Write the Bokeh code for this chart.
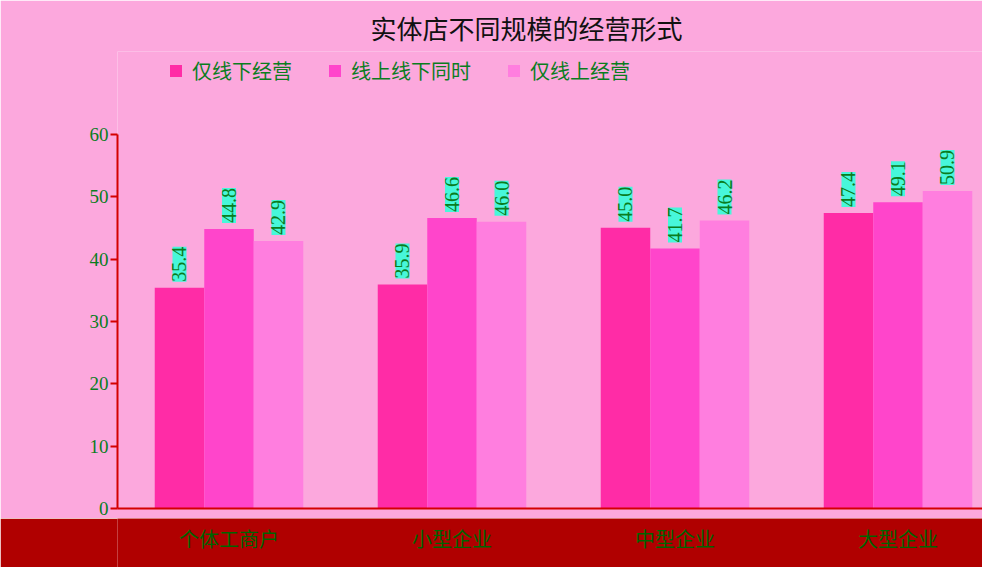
from bokeh.plotting import figure
from bokeh.models import ColumnDataSource, Legend, LegendItem, FixedTicker, Range1d, LabelSet
from bokeh.layouts import column
from bokeh.core.properties import value
from bokeh.embed import file_html
from bokeh.resources import INLINE

title_text = "实体店不同规模的经营形式"
categories = ["个体工商户", "小型企业", "中型企业", "大型企业"]
series_names = ["仅线下经营", "线上线下同时", "仅线上经营"]
offline_only = [35.4, 35.9, 45.0, 47.4]
both = [44.8, 46.6, 41.7, 49.1]
online_only = [42.9, 46.0, 46.2, 50.9]
y_ticks = [0, 10, 20, 30, 40, 50, 60]

colors = ["#ff2ca6", "#ff45cb", "#ff7edf"]
bg = "#fca8dd"
band = "#b00000"
cjk = "Noto Sans CJK SC"
num_font = "Liberation Serif"
green = "#0a7d1e"
cyan = "#33ffd9"

W = 982
FRAME_TOP = 50
x_range = Range1d(0, 865 / 223)
y_end = 60 * (508 - FRAME_TOP) / 375

p = figure(width=W, height=518, x_range=x_range, y_range=Range1d(0, y_end),
           title=title_text, output_backend="svg", toolbar_location=None,
           min_border_left=117, min_border_right=0, min_border_top=FRAME_TOP, min_border_bottom=10)
p.background_fill_color = bg
p.border_fill_color = bg
p.outline_line_color = None
p.grid.visible = False

p.title.text_font = cjk
p.title.text_font_size = "26px"
p.title.text_font_style = "normal"
p.title.text_color = "#111111"
p.title.align = "left"
p.title.offset = 253
p.title.standoff = 12

bar_w = 0.222
offsets = [-bar_w, 0.0, bar_w]
series = [offline_only, both, online_only]
renderers = []
for k, vals in enumerate(series):
    xs = [i + 0.5 + offsets[k] for i in range(len(categories))]
    src = ColumnDataSource(dict(x=xs, top=vals, lab=["%.1f" % v for v in vals]))
    r = p.vbar(x="x", top="top", width=bar_w, bottom=0, source=src,
               fill_color=colors[k], line_color=None)
    renderers.append(r)
    lbl = LabelSet(x="x", y="top", text="lab", source=src, angle=1.5708,
                   x_offset=0, y_offset=6, text_align="left", text_baseline="middle",
                   text_font=value(num_font), text_font_size="20px", text_color=green,
                   background_fill_color=cyan, background_fill_alpha=0.9)
    p.add_layout(lbl)

p.yaxis.ticker = FixedTicker(ticks=y_ticks)
p.yaxis.bounds = (0, 60)
p.yaxis.axis_line_color = "#d40000"
p.yaxis.axis_line_width = 2
p.yaxis.major_tick_line_color = "#d40000"
p.yaxis.major_tick_line_width = 2
p.yaxis.major_tick_in = 0
p.yaxis.major_tick_out = 7
p.yaxis.minor_tick_line_color = None
p.yaxis.major_label_text_font = num_font
p.yaxis.major_label_text_font_size = "19px"
p.yaxis.major_label_text_color = green
p.yaxis.major_label_standoff = 2

p.xaxis.ticker = FixedTicker(ticks=[])
p.xaxis.axis_line_color = "#d40000"
p.xaxis.axis_line_width = 2
p.xaxis.major_tick_line_color = None
p.xaxis.minor_tick_line_color = None
p.xaxis.major_label_text_font_size = "0px"

legend = Legend(items=[LegendItem(label=series_names[k], renderers=[renderers[k]]) for k in range(3)],
                orientation="horizontal", location=(51, 423),
                label_text_font=cjk, label_text_font_size="20px", label_text_color=green,
                glyph_width=15, glyph_height=15, label_standoff=9, spacing=35,
                padding=0, margin=0, background_fill_alpha=0, border_line_color=None)
p.add_layout(legend)

p2 = figure(width=W, height=49, x_range=x_range, y_range=Range1d(0, 1),
            output_backend="svg", toolbar_location=None,
            min_border_left=117, min_border_right=0, min_border_top=0, min_border_bottom=0)
p2.background_fill_color = band
p2.border_fill_color = band
p2.outline_line_color = None
p2.axis.visible = False
p2.grid.visible = False
csrc = ColumnDataSource(dict(x=[i + 0.5 for i in range(len(categories))], y=[0.6] * len(categories), t=categories))
p2.text(x="x", y="y", text="t", source=csrc, text_align="center", text_baseline="middle",
        text_font=value(cjk), text_font_size="20px", text_color="#006400")

layout = column(p, p2, spacing=0)
open("out.html", "w").write(file_html(layout, INLINE))
